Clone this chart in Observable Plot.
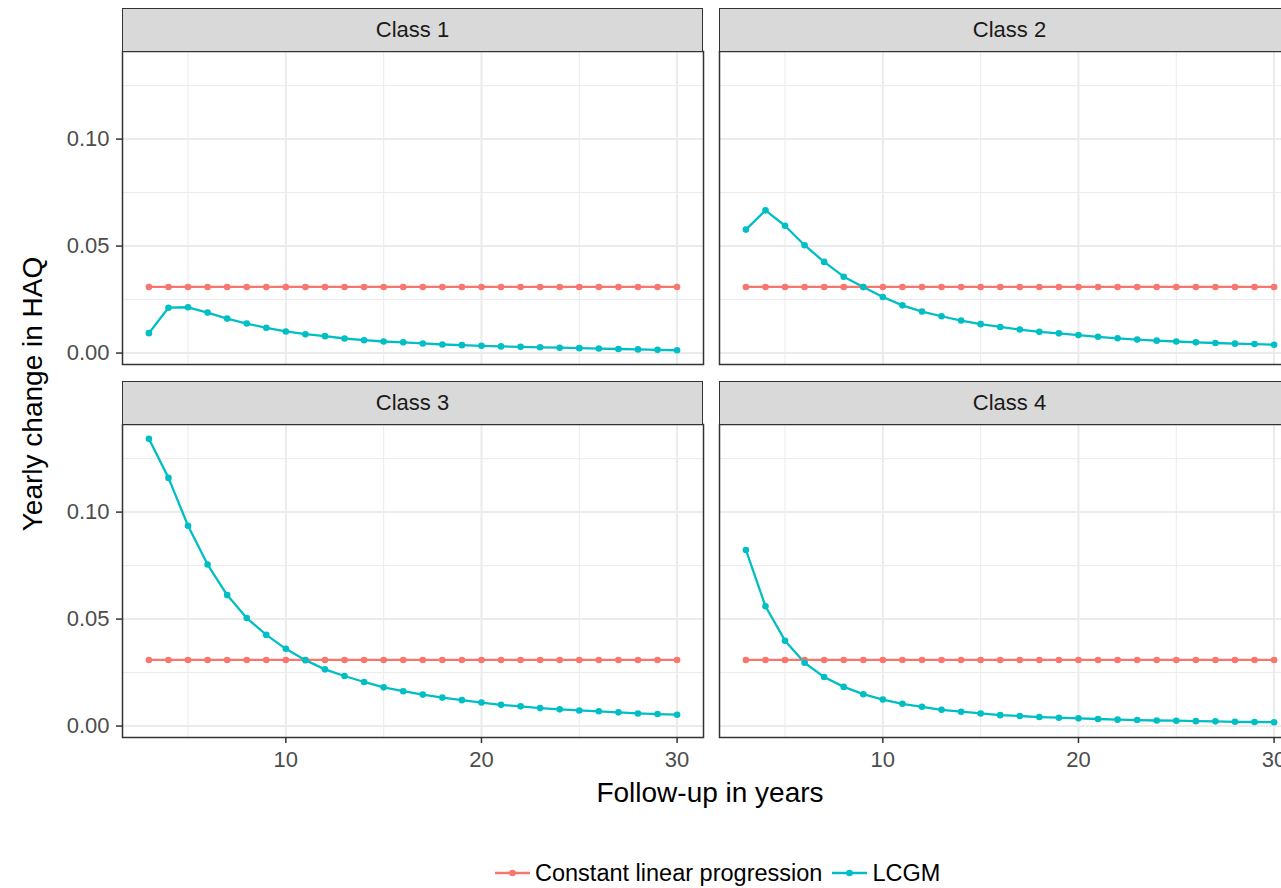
<!DOCTYPE html>
<html>
<head>
<meta charset="utf-8">
<script src="https://cdn.jsdelivr.net/npm/d3@7"></script>
<script src="https://cdn.jsdelivr.net/npm/@observablehq/plot@0.6"></script>
<style>
  html, body { margin: 0; padding: 0; background: #fff; overflow: hidden; }
  #root { position: relative; width: 1281px; height: 888px; overflow: hidden;
          font-family: "Liberation Sans", Arial, Helvetica, sans-serif; }
  .strip { position: absolute; box-sizing: border-box; background: #D9D9D9;
           border: 1.5px solid #333; display: flex; align-items: center; justify-content: center;
           font-size: 22px; color: #1A1A1A; }
  .panel { position: absolute; }
  .panel svg { overflow: visible; max-width: none !important; display: block; }
  .xtitle { position: absolute; left: 410px; width: 600px; top: 779px; text-align: center;
            font-size: 28px; line-height: 28px; color: #000; }
  .ytitle { position: absolute; left: -167px; width: 400px; top: 380px; text-align: center;
            font-size: 28px; line-height: 28px; color: #000; transform: rotate(-90deg); }
  .legend { position: absolute; left: 495px; top: 860px; height: 26px; display: flex; align-items: center;
            font-size: 23.5px; color: #000; white-space: nowrap; }
  .legend .item { display: flex; align-items: center; }
  .legend svg { display: block; }
</style>
</head>
<body>
<div id="root"></div>
<script>
// ---------- data ----------
const classes = ["Class 1", "Class 2", "Class 3", "Class 4"];
const seriesNames = ["Constant linear progression", "LCGM"];
const seriesColors = ["#F8766D", "#00BFC4"];
const years = [3, 4, 5, 6, 7, 8, 9, 10, 11, 12, 13, 14, 15, 16, 17, 18, 19, 20,
               21, 22, 23, 24, 25, 26, 27, 28, 29, 30];
// constant linear progression (yearly change), per class
const constantRate = [0.0309, 0.0309, 0.0309, 0.0309];
// LCGM yearly change, per class
const lcgmClass1 = [0.0093, 0.0212, 0.0214, 0.0189, 0.0161, 0.0138, 0.0118, 0.0101, 0.0088, 0.0079,
                    0.0068, 0.0060, 0.0054, 0.0050, 0.0045, 0.0040, 0.0037, 0.0034, 0.0031, 0.0029,
                    0.0027, 0.0025, 0.0023, 0.0021, 0.0019, 0.0017, 0.0015, 0.0013];
const lcgmClass2 = [0.0577, 0.0667, 0.0595, 0.0504, 0.0426, 0.0357, 0.0309, 0.0262, 0.0223, 0.0194,
                    0.0172, 0.0152, 0.0135, 0.0122, 0.0110, 0.0099, 0.0092, 0.0084, 0.0076, 0.0069,
                    0.0063, 0.0058, 0.0054, 0.0050, 0.0047, 0.0044, 0.0042, 0.0039];
const lcgmClass3 = [0.1343, 0.1160, 0.0936, 0.0755, 0.0612, 0.0505, 0.0426, 0.0361, 0.0308, 0.0265,
                    0.0234, 0.0206, 0.0181, 0.0163, 0.0147, 0.0133, 0.0121, 0.0110, 0.0099, 0.0092,
                    0.0084, 0.0078, 0.0073, 0.0069, 0.0064, 0.0059, 0.0056, 0.0053];
const lcgmClass4 = [0.0823, 0.0560, 0.0399, 0.0296, 0.0229, 0.0183, 0.0149, 0.0124, 0.0104, 0.0090,
                    0.0076, 0.0067, 0.0059, 0.0051, 0.0047, 0.0042, 0.0039, 0.0036, 0.0033, 0.0030,
                    0.0028, 0.0026, 0.0025, 0.0023, 0.0022, 0.0020, 0.0019, 0.0018];
const xMajorTicks = [10, 20, 30];
const xMinorTicks = [5, 15, 25];
const yMajorTicks = [0, 0.05, 0.10];
const yMinorTicks = [0.025, 0.075, 0.125];
const xTitle = "Follow-up in years";
const yTitle = "Yearly change in HAQ";

// ---------- build table ----------
const lcgm = [lcgmClass1, lcgmClass2, lcgmClass3, lcgmClass4];
const rows = [];
classes.forEach((c, i) => {
  years.forEach((yr) => rows.push({cls: c, year: yr, value: constantRate[i], series: seriesNames[0]}));
  years.forEach((yr, j) => rows.push({cls: c, year: yr, value: lcgm[i][j], series: seriesNames[1]}));
});

// ggplot-like 5% expansion of the shared scales
function expand([a, b]) { const d = (b - a) * 0.05; return [a - d, b + d]; }
const xDom = expand(d3.extent(rows, d => d.year));
const yDom = expand(d3.extent(rows, d => d.value));

// ---------- layout ----------
const root = document.getElementById("root");
const FONT = '"Liberation Sans", Arial, Helvetica, sans-serif';
const panelW = 581, panelH = 313, stripH = 43;
const colX = [122, 719];
const rowY = [51, 424];

classes.forEach((c, i) => {
  const col = i % 2, row = Math.floor(i / 2);
  const hasY = col === 0, hasX = row === 1;
  const mL = hasY ? 122 : 4, mR = 4, mT = 4, mB = hasX ? 50 : 4;

  const strip = document.createElement("div");
  strip.className = "strip";
  strip.style.left = colX[col] + "px";
  strip.style.top = (rowY[row] - stripH) + "px";
  strip.style.width = panelW + "px";
  strip.style.height = (stripH + 1) + "px";
  strip.textContent = c;

  const data = rows.filter(d => d.cls === c);
  const marks = [
    Plot.ruleX(xMinorTicks, {stroke: "#EBEBEB", strokeWidth: 1}),
    Plot.ruleY(yMinorTicks, {stroke: "#EBEBEB", strokeWidth: 1}),
    Plot.ruleX(xMajorTicks, {stroke: "#EBEBEB", strokeWidth: 2}),
    Plot.ruleY(yMajorTicks, {stroke: "#EBEBEB", strokeWidth: 2}),
    Plot.line(data, {x: "year", y: "value", stroke: "series", z: "series", strokeWidth: 2.3}),
    Plot.dot(data, {x: "year", y: "value", fill: "series", r: 3.3, stroke: "none"}),
    Plot.frame({stroke: "#333333", strokeWidth: 1.5})
  ];
  if (hasY) marks.push(Plot.axisY(yMajorTicks, {
    tickSize: 6, tickPadding: 7, tickFormat: d3.format(".2f"), fontSize: 22,
    stroke: "#333333", strokeWidth: 1.5, fill: "#4D4D4D", label: null
  }));
  if (hasX) marks.push(Plot.axisX(xMajorTicks, {
    tickSize: 6, tickPadding: 8, fontSize: 22,
    stroke: "#333333", strokeWidth: 1.5, fill: "#4D4D4D", label: null
  }));

  const W = mL + panelW + mR, H = mT + panelH + mB;
  const plot = Plot.plot({
    width: W,
    height: H,
    marginLeft: mL, marginRight: mR, marginTop: mT, marginBottom: mB,
    x: {domain: xDom, axis: null},
    y: {domain: yDom, axis: null},
    color: {domain: seriesNames, range: seriesColors},
    style: {fontFamily: FONT, fontSize: "22px", background: "transparent", overflow: "visible", maxWidth: "none"},
    marks
  });
  const wrap = document.createElement("div");
  wrap.className = "panel";
  wrap.style.left = (colX[col] - mL) + "px";
  wrap.style.top = (rowY[row] - mT) + "px";
  wrap.style.width = W + "px";
  wrap.style.height = H + "px";
  wrap.appendChild(plot);
  root.appendChild(wrap);
  root.appendChild(strip);
});

// axis titles
const xt = document.createElement("div");
xt.className = "xtitle"; xt.textContent = xTitle; root.appendChild(xt);
const yt = document.createElement("div");
yt.className = "ytitle"; yt.textContent = yTitle; root.appendChild(yt);

// legend
const legend = document.createElement("div");
legend.className = "legend";
seriesNames.forEach((name, i) => {
  const item = document.createElement("div");
  item.className = "item";
  item.style.marginRight = i === 0 ? "10px" : "0px";
  const ns = "http://www.w3.org/2000/svg";
  const svg = document.createElementNS(ns, "svg");
  svg.setAttribute("width", 35); svg.setAttribute("height", 20);
  svg.style.marginRight = "5px";
  const ln = document.createElementNS(ns, "line");
  ln.setAttribute("x1", 0); ln.setAttribute("x2", 35); ln.setAttribute("y1", 10); ln.setAttribute("y2", 10);
  ln.setAttribute("stroke", seriesColors[i]); ln.setAttribute("stroke-width", 2.3);
  const ci = document.createElementNS(ns, "circle");
  ci.setAttribute("cx", 17.5); ci.setAttribute("cy", 10); ci.setAttribute("r", 3.3);
  ci.setAttribute("fill", seriesColors[i]);
  svg.appendChild(ln); svg.appendChild(ci);
  const tx = document.createElement("span");
  tx.textContent = name;
  item.appendChild(svg); item.appendChild(tx);
  legend.appendChild(item);
});
root.appendChild(legend);
</script>
</body>
</html>
